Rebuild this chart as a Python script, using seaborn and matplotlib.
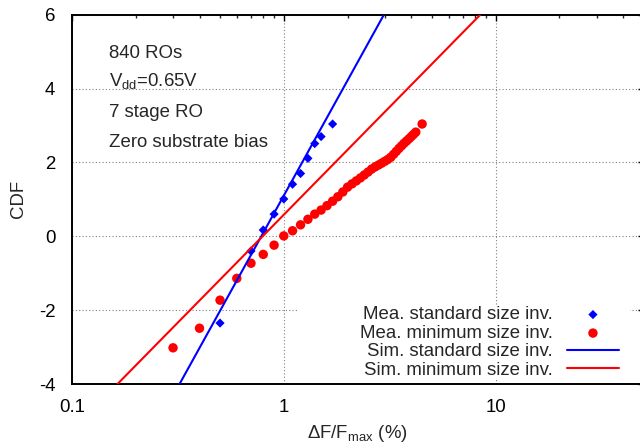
import matplotlib
matplotlib.use("Agg")
import matplotlib.pyplot as plt
import seaborn as sns
import pandas as pd
from matplotlib.patches import Rectangle
from matplotlib.ticker import LogLocator, NullFormatter, FixedLocator, FixedFormatter

# ---- data ----
std_x = [0.5, 0.7, 0.8, 0.9, 1.0, 1.1, 1.2, 1.3, 1.4, 1.5, 1.7]
std_y = [-2.35, -0.40, 0.17, 0.60, 1.01, 1.41, 1.70, 2.11, 2.51, 2.70, 3.04]

min_x = [0.3, 0.4, 0.5, 0.6, 0.7, 0.8, 0.9, 1.0, 1.1, 1.2, 1.3, 1.4, 1.5, 1.6,
         1.7, 1.8, 1.9, 2.0, 2.1, 2.2, 2.3, 2.4, 2.5, 2.6, 2.7, 2.8, 2.9, 3.0,
         3.1, 3.2, 3.3, 3.4, 3.5, 3.6, 3.7, 3.8, 3.9, 4.0, 4.1, 4.2, 4.5]
min_y = [-3.02, -2.49, -1.73, -1.14, -0.73, -0.49, -0.24, 0.01, 0.15, 0.31,
         0.46, 0.60, 0.71, 0.83, 0.95, 1.07, 1.20, 1.33, 1.42, 1.50, 1.58,
         1.66, 1.74, 1.82, 1.88, 1.93, 1.98, 2.03, 2.08, 2.14, 2.22, 2.30,
         2.38, 2.45, 2.52, 2.58, 2.64, 2.70, 2.76, 2.82, 3.04]

sim_std_x = [0.322, 2.97]
sim_std_y = [-4.0, 6.0]
sim_min_x = [0.164, 8.47]
sim_min_y = [-4.0, 6.0]

x_ticks = [0.1, 1, 10]
x_tick_labels = ["0.1", "1", "10"]
y_ticks = [-4, -2, 0, 2, 4, 6]
y_tick_labels = ["-4", "-2", "0", "2", "4", "6"]

labels = ["Mea. standard size inv.", "Mea. minimum size inv.",
          "Sim. standard size inv.", "Sim. minimum size inv."]
notes = ["840 ROs", "V$_{dd}$=0.65V", "7 stage RO", "Zero substrate bias"]

# ---- style ----
sns.set_theme(style="white")
plt.rcParams["font.family"] = ["Liberation Sans", "DejaVu Sans"]
plt.rcParams["mathtext.default"] = "regular"
FS = 13.4

W, H = 640, 448
fig = plt.figure(figsize=(6.4, 4.48), dpi=100)
L, R, T, B = 72, 643.6, 14.7, 384
ax = fig.add_axes([L / W, (H - B) / H, (R - L) / W, (B - T) / H])
ax.set_xscale("log")
ax.set_xlim(0.1, 50)
ax.set_ylim(-4, 6)

blue = "#0000ff"
red = "#ff0000"

sns.scatterplot(x=std_x, y=std_y, marker="D", s=22, color=blue, edgecolor="none",
                linewidth=0, ax=ax, label=labels[0], zorder=3)
sns.scatterplot(x=min_x, y=min_y, marker="o", s=46, color=red, edgecolor="none",
                linewidth=0, ax=ax, label=labels[1], zorder=3)
sns.lineplot(x=sim_std_x, y=sim_std_y, color=blue, linewidth=1.5, ax=ax,
             label=labels[2], zorder=4, estimator=None, sort=False)
sns.lineplot(x=sim_min_x, y=sim_min_y, color=red, linewidth=1.5, ax=ax,
             label=labels[3], zorder=4, estimator=None, sort=False)

# ticks
ax.xaxis.set_major_locator(FixedLocator(x_ticks))
ax.xaxis.set_major_formatter(FixedFormatter(x_tick_labels))
ax.xaxis.set_minor_locator(LogLocator(base=10, subs=range(2, 10)))
ax.xaxis.set_minor_formatter(NullFormatter())
ax.yaxis.set_major_locator(FixedLocator(y_ticks))
ax.yaxis.set_major_formatter(FixedFormatter(y_tick_labels))
ax.tick_params(axis="both", which="major", direction="in", length=4.3, width=1.0,
               top=True, right=True, labelsize=FS, colors="black")
ax.tick_params(axis="both", which="minor", direction="in", length=2.3, width=1.0,
               top=True, right=True)
ax.tick_params(axis="x", which="major", pad=11)
ax.tick_params(axis="y", which="major", pad=12)
for sp in ax.spines.values():
    sp.set_linewidth(1.4)
    sp.set_color("black")

ax.set_axisbelow(True)
ax.grid(True, which="major", color="#808080", linestyle=(0, (1, 2)), linewidth=0.8)
ax.grid(False, which="minor")

# opaque key area (blanks grid)
x0 = (297 - L) / (R - L)
x1 = (630 - L) / (R - L)
y0 = 6.5 / (B - T)
y1 = (B - 305) / (B - T)
ax.add_patch(Rectangle((x0, y0), x1 - x0, y1 - y0, transform=ax.transAxes,
                       facecolor="white", edgecolor="none", zorder=0.6))

# legend
h, l = ax.get_legend_handles_labels()
order = [l.index(s) for s in labels]
leg = ax.legend([h[i] for i in order], [l[i] for i in order], loc="lower right",
                bbox_to_anchor=(619 / W, (H - 379) / H), bbox_transform=fig.transFigure,
                frameon=False, fontsize=FS, markerfirst=False, handlelength=2.8,
                handletextpad=0.75, labelspacing=0.08, borderpad=0, borderaxespad=0)
leg.set_zorder(6)

# labels
ax.set_ylabel("CDF", fontsize=FS)
ax.yaxis.set_label_coords((27.5 - L) / (R - L), 0.5)
ax.set_xlabel("ΔF/F$_{max}$ (%)", fontsize=FS)
ax.xaxis.set_label_coords(0.5, -(423 - B) / (B - T))

# notes
note_y = [58.3, 86, 117, 146.7]
for txt, yy in zip(notes, note_y):
    fig.text(109.3 / W, (H - yy) / H, txt, fontsize=FS, ha="left", va="baseline")

fig.savefig("out.png", dpi=100)
